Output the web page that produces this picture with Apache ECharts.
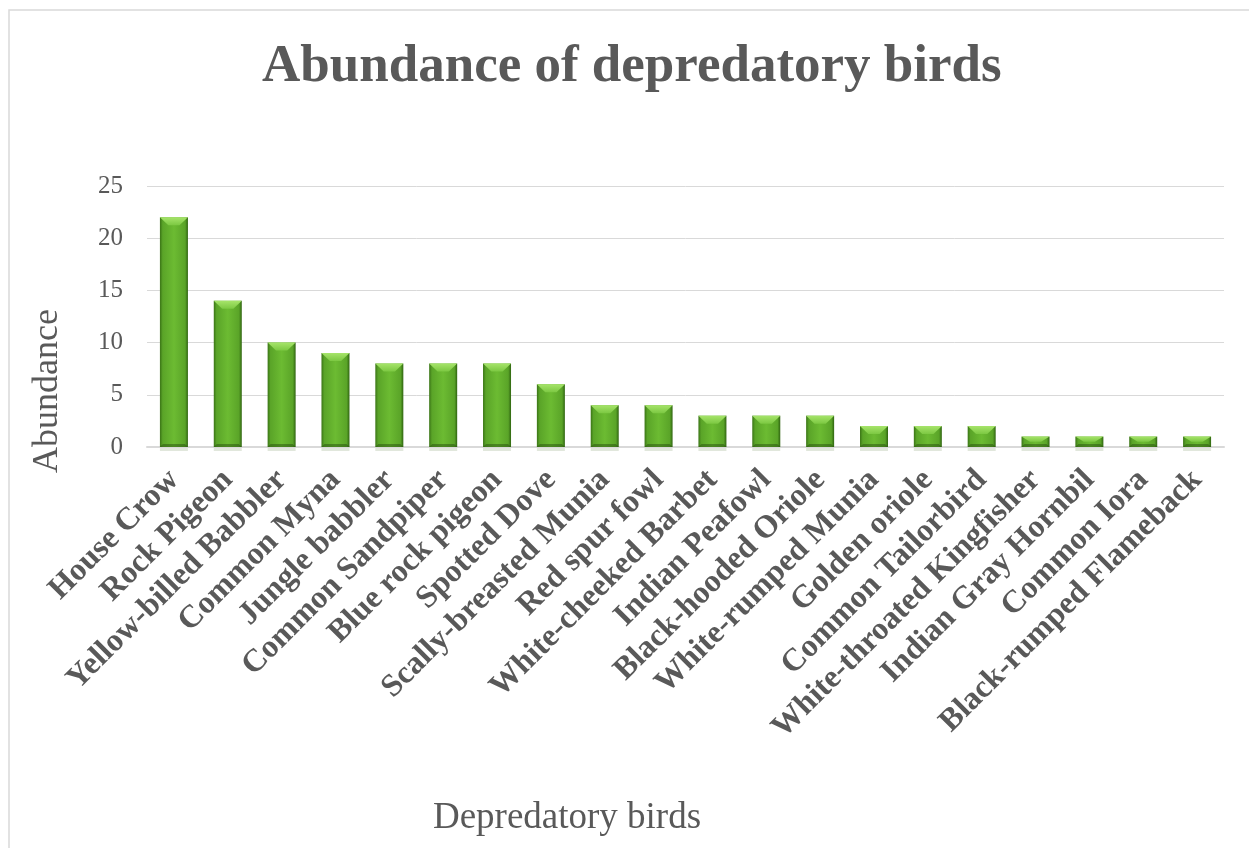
<!DOCTYPE html>
<html>
<head>
<meta charset="utf-8">
<script src="https://cdn.jsdelivr.net/npm/echarts@6/dist/echarts.min.js"></script>
<style>
  html, body { margin: 0; padding: 0; background: #fff; }
  #chart { width: 1249px; height: 848px; }
</style>
</head>
<body>
<div id="chart"></div>
<script>
// Bird species observed damaging crops, and how many of each were counted
const birds = [
  'House Crow', 'Rock Pigeon', 'Yellow-billed Babbler', 'Common Myna', 'Jungle babbler',
  'Common Sandpiper', 'Blue rock pigeon', 'Spotted Dove', 'Scally-breasted Munia', 'Red spur fowl',
  'White-cheeked Barbet', 'Indian Peafowl', 'Black-hooded Oriole', 'White-rumped Munia', 'Golden oriole',
  'Common Tailorbird', 'White-throated Kingfisher', 'Indian Gray Hornbil', 'Common Iora', 'Black-rumped Flameback'
];
const abundance = [22, 14, 10, 9, 8, 8, 8, 6, 4, 4, 3, 3, 3, 2, 2, 2, 1, 1, 1, 1];
const yTicks = [0, 5, 10, 15, 20, 25];

const textColor = '#595959';
const serif = '"Liberation Serif", "Times New Roman", serif';

const chart = echarts.init(document.getElementById('chart'));

// Bevelled green column: shaded body, light top facet, dark base facet
function renderBevelBar(params, api) {
  const idx = api.value(0);
  const val = api.value(1);
  const top = api.coord([idx, val]);
  const base = api.coord([idx, 0]);
  const w = api.size([1, 0])[0] * 0.52;
  const l = top[0] - w / 2;
  const r = top[0] + w / 2;
  const h = base[1] - top[1];
  const bev = Math.min(8, h / 2);
  const bodyFill = new echarts.graphic.LinearGradient(0, 0, 1, 0, [
    { offset: 0, color: '#3a7416' },
    { offset: 0.1, color: '#5aa428' },
    { offset: 0.5, color: '#6cbb32' },
    { offset: 0.9, color: '#5aa428' },
    { offset: 1, color: '#2f6410' }
  ]);
  const topFill = new echarts.graphic.LinearGradient(0, 0, 0, 1, [
    { offset: 0, color: '#a6e46a' },
    { offset: 1, color: '#7cc842' }
  ]);
  return {
    type: 'group',
    children: [
      { type: 'rect', shape: { x: l, y: base[1] + 1, width: w, height: 3 },
        style: { fill: 'rgba(90,120,60,0.18)' } },
      { type: 'rect', shape: { x: l, y: top[1], width: w, height: h },
        style: { fill: bodyFill } },
      { type: 'polygon',
        shape: { points: [[l, top[1]], [r, top[1]], [r - w * 0.3, top[1] + bev], [l + w * 0.3, top[1] + bev]] },
        style: { fill: topFill } },
      { type: 'polygon',
        shape: { points: [[l, base[1]], [r, base[1]], [r - 3, base[1] - Math.min(3, h / 3)], [l + 3, base[1] - Math.min(3, h / 3)]] },
        style: { fill: 'rgba(40,80,15,0.5)' } }
    ]
  };
}

chart.setOption({
  animation: false,
  backgroundColor: '#ffffff',
  title: {
    text: 'Abundance of depredatory birds',
    left: 257,
    top: 36,
    textStyle: { fontFamily: serif, fontSize: 53, fontWeight: 'bold', color: textColor }
  },
  grid: { left: 147, right: 25, top: 186, bottom: 401, containLabel: false },
  xAxis: {
    type: 'category',
    data: birds,
    axisLine: { show: true, lineStyle: { color: '#d9d9d9', width: 2 } },
    axisTick: { show: false },
    axisLabel: {
      interval: 0,
      rotate: 45,
      margin: 28,
      fontFamily: serif,
      fontSize: 32,
      fontWeight: 'bold',
      color: textColor
    }
  },
  yAxis: {
    type: 'value',
    min: yTicks[0],
    max: yTicks[yTicks.length - 1],
    interval: yTicks[1] - yTicks[0],
    axisLine: { show: false },
    axisTick: { show: false },
    splitLine: { lineStyle: { color: '#d9d9d9', width: 1 } },
    axisLabel: { margin: 24, fontFamily: serif, fontSize: 25, color: textColor }
  },
  graphic: [
    { type: 'rect', z: -10,
      shape: { x: 9, y: 10, width: 1260, height: 900 },
      style: { fill: 'none', stroke: '#d9d9d9', lineWidth: 1.5 } },
    { type: 'text', x: 48, y: 391, rotation: Math.PI / 2,
      style: { text: 'Abundance', fontFamily: serif, fontSize: 36, fill: textColor,
               align: 'center', verticalAlign: 'middle' } },
    { type: 'text', x: 567, y: 818,
      style: { text: 'Depredatory birds', fontFamily: serif, fontSize: 37, fill: textColor,
               align: 'center', verticalAlign: 'middle' } }
  ],
  series: [{
    type: 'custom',
    renderItem: renderBevelBar,
    encode: { x: 0, y: 1 },
    data: abundance.map((v, i) => [i, v])
  }]
});
</script>
</body>
</html>
